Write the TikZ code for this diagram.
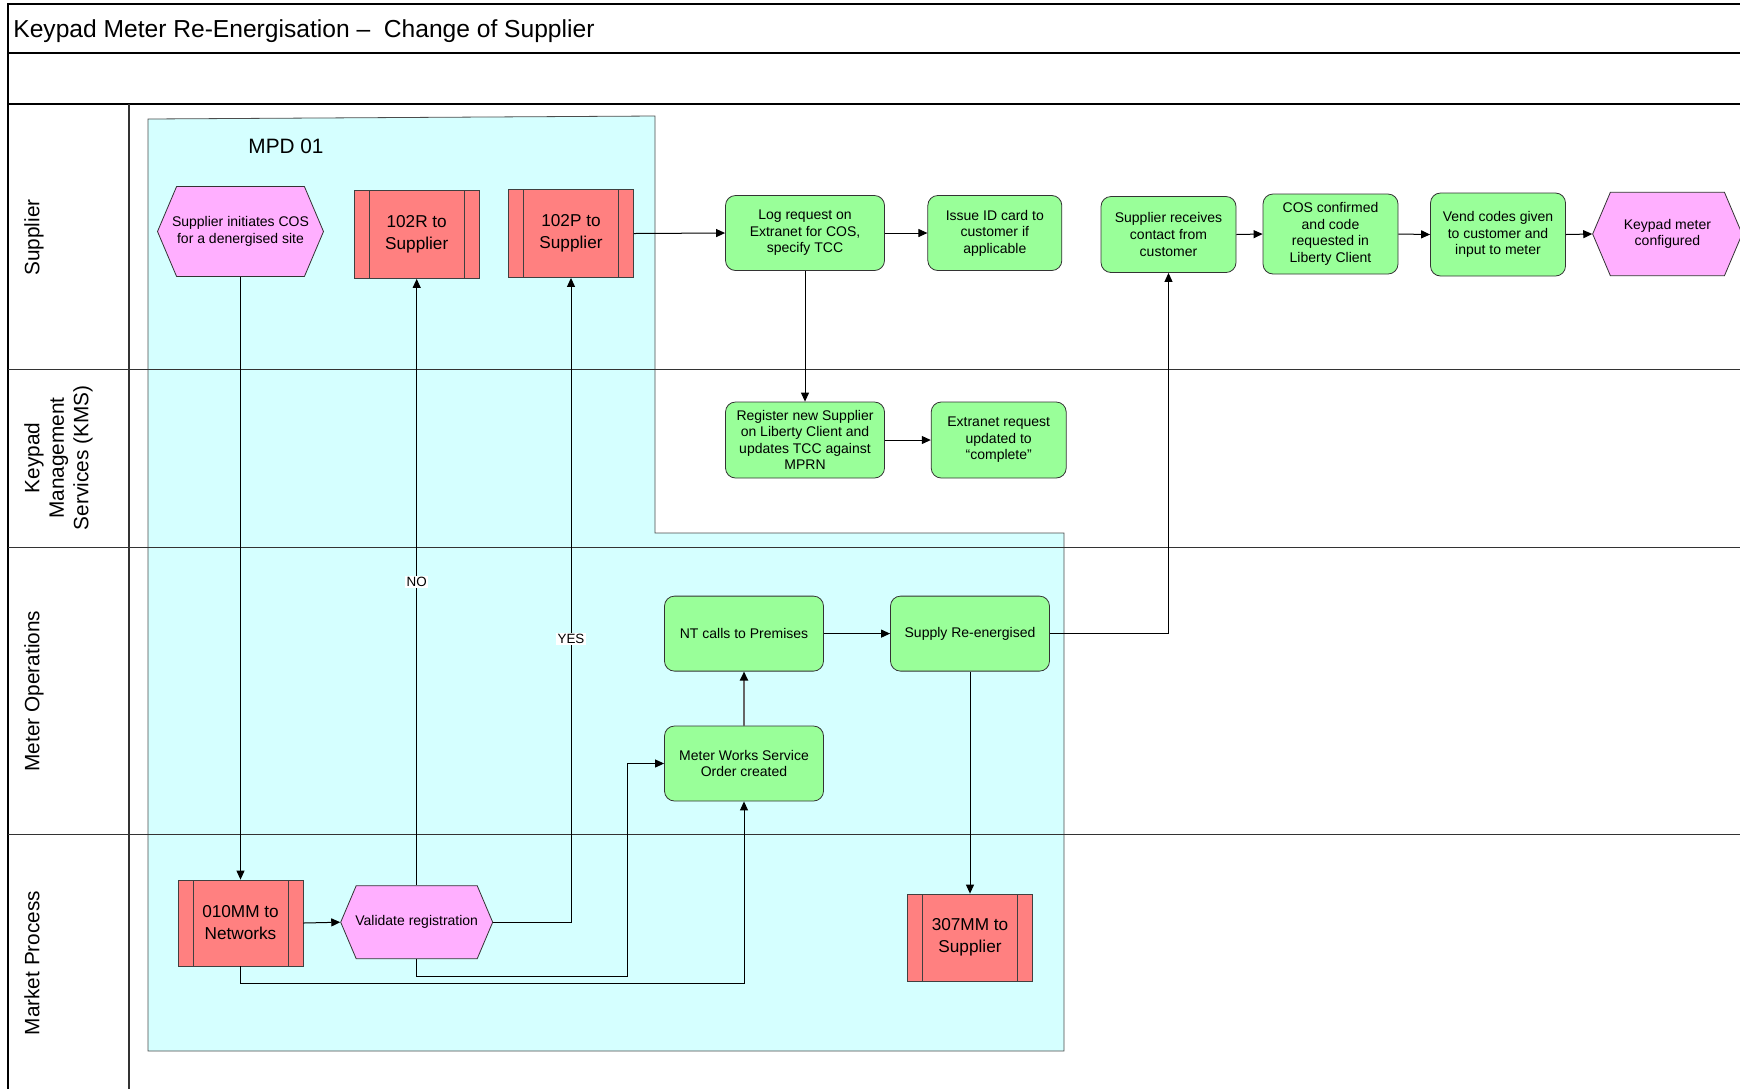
\documentclass[tikz,border=0pt]{standalone}
\usepackage{fontspec}
\setmainfont{Liberation Sans}
\usetikzlibrary{positioning,shapes,arrows,arrows.meta}

\definecolor{mpdcyan}{RGB}{213,255,255}
\definecolor{taskgreen}{RGB}{153,255,153}
\definecolor{msgred}{RGB}{255,128,128}
\definecolor{eventpink}{RGB}{255,175,255}

\tikzset{
  task/.style={draw=black!80, fill=taskgreen, rounded corners=5pt, align=center,
    inner sep=1pt, font=\fontsize{7}{8.3}\selectfont},
  msgbox/.style={draw=black!75, fill=msgred, align=center, minimum width=62.5pt,
    minimum height=44pt, inner sep=1pt, font=\fontsize{8.6}{11}\selectfont,
    path picture={
      \draw[black!75] ([xshift=7.5pt]path picture bounding box.north west) -- ([xshift=7.5pt]path picture bounding box.south west);
      \draw[black!75] ([xshift=-7.5pt]path picture bounding box.north east) -- ([xshift=-7.5pt]path picture bounding box.south east);}},
  event/.style={shape=signal, signal to=east and west, signal pointer angle=134,
    draw=black!80, fill=eventpink, align=center, inner xsep=-5pt, inner ysep=1pt,
    font=\fontsize{7}{8.3}\selectfont},
  flow/.style={-{Triangle[length=4.5pt,width=4pt,color=black]}, black, line width=0.5pt},
  lane/.style={black!80, line width=0.8pt},
  lanelbl/.style={rotate=90, anchor=north, align=center, inner sep=0pt,
    font=\fontsize{10.4}{12.2}\selectfont},
  yesno/.style={fill=white, inner sep=0.6pt, font=\fontsize{6.7}{8}\selectfont}
}

\begin{document}
\begin{tikzpicture}[x=0.5pt,y=-0.5pt]
\useasboundingbox (0,0) rectangle (1740,1089);

% MPD 01 area
\filldraw[fill=mpdcyan, draw=black!70] (148,119) -- (655,116) -- (655,533) -- (1064,533) -- (1064,1051) -- (148,1051) -- cycle;

% frame and swim lanes
\draw[lane, black] (1740,4) -- (8,4) -- (8,1089);
\draw[lane, black] (8,53) -- (1740,53);
\draw[lane, black] (8,104) -- (1740,104);
\draw[lane] (8,369.5) -- (1740,369.5);
\draw[lane] (8,547.5) -- (1740,547.5);
\draw[lane] (8,834.5) -- (1740,834.5);
\draw[lane] (128.7,104) -- (128.7,1089);

\node[anchor=west, inner sep=0pt, font=\fontsize{12.3}{14}\selectfont] (title) at (13,31) {Keypad Meter Re-Energisation –\ \ Change of Supplier};
\node[font=\fontsize{10.4}{12}\selectfont] (mpd) at (286,146.5) {MPD 01};

\node[lanelbl] (lSupplier) at (24,237.5) {Supplier};
\node[lanelbl] (lKMS) at (24,458) {Keypad\\Management\\Services (KMS)};
\node[lanelbl] (lMeterOps) at (24,691) {Meter Operations};
\node[lanelbl] (lMarket) at (24,963) {Market Process};

% Supplier lane
\node[event, minimum width=83pt, minimum height=45pt] (initCOS) at (240.5,231.5) {Supplier initiates COS\\for a denergised site};
\node[msgbox] (r102R) at (416.7,234.5) {102R to\\Supplier};
\node[msgbox] (r102P) at (571,233.5) {102P to\\Supplier};
\node[task, minimum width=79.5pt, minimum height=37.5pt] (logReq) at (805,233) {Log request on\\Extranet for COS,\\specify TCC};
\node[task, minimum width=67pt, minimum height=37.5pt] (issueID) at (994.8,233) {Issue ID card to\\customer if\\applicable};
\node[task, minimum width=67.5pt, minimum height=38pt] (suppRecv) at (1168.5,234.5) {Supplier receives\\contact from\\customer};
\node[task, minimum width=67.5pt, minimum height=40pt] (cosConf) at (1330.5,234) {COS confirmed\\and code\\requested in\\Liberty Client};
\node[task, minimum width=67.5pt, minimum height=41.5pt] (vendCodes) at (1498,234.5) {Vend codes given\\to customer and\\input to meter};
\node[event, minimum width=74.75pt, minimum height=41.7pt] (kpConf) at (1667.4,234) {Keypad meter\\configured};

% KMS lane
\node[task, minimum width=79.5pt, minimum height=38pt] (register) at (805,440) {Register new Supplier\\on Liberty Client and\\updates TCC against\\MPRN};
\node[task, minimum width=67.5pt, minimum height=38pt] (extranet) at (998.7,440) {Extranet request\\updated to\\“complete”};

% Meter Operations lane
\node[task, minimum width=79.5pt, minimum height=37.5pt] (ntCalls) at (744,633.6) {NT calls to Premises};
\node[task, minimum width=79.5pt, minimum height=37.5pt] (supplyRe) at (970,633.6) {Supply Re-energised};
\node[task, minimum width=79.5pt, minimum height=37.5pt] (meterWorks) at (744,763.5) {Meter Works Service\\Order created};

% Market Process lane
\node[msgbox, minimum height=43pt] (mm010) at (240.5,923) {010MM to\\Networks};
\node[event, minimum width=76pt, minimum height=36.5pt] (validate) at (416.7,922.2) {Validate registration};
\node[msgbox, minimum height=43.5pt] (mm307) at (970,937.5) {307MM to\\Supplier};

\coordinate (vBend) at (627,976.5);
\coordinate (mBend) at (744,983.2);

% connectors
\draw[flow] (initCOS.south) -- (mm010.north);
\draw[flow] (mm010.east) -- (validate.west);
\draw[flow] (validate.north) -- node[yesno] {NO} (r102R.south);
\draw[flow] (validate.east) -| node[yesno, pos=0.72] {YES} (r102P.south);
\draw[flow] (validate.south) |- (vBend) |- (meterWorks.west);
\draw[flow] (mm010.south) |- (mBend) -- (meterWorks.south);
\draw[flow, draw=black!60, line width=1pt] (meterWorks.north) -- (ntCalls.south);
\draw[flow] (ntCalls.east) -- (supplyRe.west);
\draw[flow] (supplyRe.east) -| (suppRecv.south);
\draw[flow] (supplyRe.south) -- (mm307.north);
\draw[flow] (r102P.east) -- (logReq.west);
\draw[flow] (logReq.east) -- (issueID.west);
\draw[flow] (logReq.south) -- (register.north);
\draw[flow] (register.east) -- (extranet.west);
\draw[flow] (suppRecv.east) -- (cosConf.west);
\draw[flow] (cosConf.east) -- (vendCodes.west);
\draw[flow] (vendCodes.east) -- (kpConf.west);

\end{tikzpicture}
\end{document}
